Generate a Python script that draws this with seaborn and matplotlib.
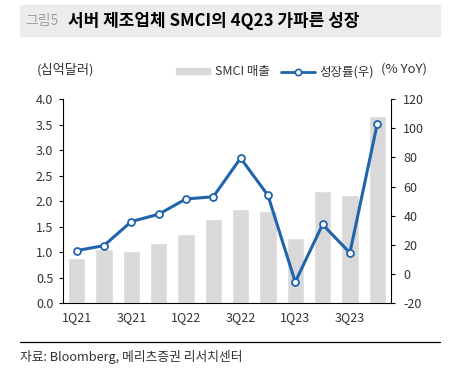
import numpy as np
import matplotlib
matplotlib.use('Agg')
import matplotlib.pyplot as plt
import seaborn as sns
import pandas as pd
from matplotlib.patches import Rectangle
from matplotlib.lines import Line2D

# ----------------------------------------------------------
# data
# ----------------------------------------------------------
quarters = ['1Q21', '2Q21', '3Q21', '4Q21', '1Q22', '2Q22', '3Q22', '4Q22',
            '1Q23', '2Q23', '3Q23', '4Q23']
revenue = [0.89, 1.07, 1.03, 1.18, 1.36, 1.64, 1.85, 1.80, 1.28, 2.19, 2.12, 3.66]  # 십억달러
growth = [16, 19.5, 36, 41, 51.5, 53, 79.5, 54, -5.5, 34, 14.5, 103]  # % YoY
tick_labels = ['1Q21', '3Q21', '1Q22', '3Q22', '1Q23', '3Q23']

bar_color = '#d9d9d9'
line_color = '#1f64ad'

# ----------------------------------------------------------
# style
# ----------------------------------------------------------
sns.set_style('white')
plt.rcParams['font.family'] = ['Noto Sans CJK KR', 'DejaVu Sans']
plt.rcParams['axes.unicode_minus'] = False

fig = plt.figure(figsize=(4.51, 3.77), dpi=100)
ax = fig.add_axes([0.1397, 0.196, 0.727, 0.541])

df = pd.DataFrame({'q': quarters, 'rev': revenue, 'x': np.arange(len(quarters))})
sns.barplot(data=df, x='q', y='rev', color=bar_color, saturation=1, width=0.63, ax=ax)
ax.set_xlim(-0.5, 11.5)
ax.set_ylim(0, 4.0)
ax.set_yticks(np.arange(0, 4.01, 0.5))
ax.set_yticklabels([f'{v:.1f}' for v in np.arange(0, 4.01, 0.5)])
ax.set_xlabel('')
ax.set_ylabel('')

# x ticks: marks at boundaries, labels at every other quarter
ax.set_xticks(np.arange(-0.5, 12, 2))
ax.set_xticklabels([])
ax.set_xticks(np.arange(0, 12, 2), minor=True)
ax.set_xticklabels(tick_labels, minor=True)
ax.tick_params(axis='x', which='major', direction='inout', length=6, width=0.8, color='black')
ax.tick_params(axis='x', which='minor', length=0, pad=6, labelsize=9, labelcolor='#333333')
ax.tick_params(axis='y', direction='out', length=3, width=0.8, color='black', pad=4,
               labelsize=9, labelcolor='#333333', left=True)

ax2 = ax.twinx()
sns.lineplot(data=df.assign(g=growth), x='x', y='g', ax=ax2, color=line_color, lw=2.2,
             marker='o', markersize=5, markerfacecolor='white', markeredgecolor=line_color,
             markeredgewidth=1.3)
ax2.set_ylim(-20, 120)
ax2.set_yticks(np.arange(-20, 121, 20))
ax2.set_xlim(-0.5, 11.5)
ax2.set_xlabel('')
ax2.set_ylabel('')
ax2.tick_params(axis='y', direction='out', length=3, width=0.8, color='black', pad=6,
                labelsize=9, labelcolor='#333333', right=True)

for a in (ax, ax2):
    a.spines['top'].set_visible(False)
    for s in ('left', 'right', 'bottom'):
        a.spines[s].set_color('black')
        a.spines[s].set_linewidth(0.8)
ax.spines['right'].set_visible(False)
ax2.spines['left'].set_visible(False)
ax2.spines['bottom'].set_visible(False)

# ----------------------------------------------------------
# title bar, units, legend, source
# ----------------------------------------------------------
fig.patches.append(Rectangle((20 / 451, 1 - 36 / 377), 420 / 451, 31 / 377,
                             transform=fig.transFigure, color='#ececec', zorder=0))
fig.text(25 / 451, 1 - 21 / 377, '그림5', fontsize=10, color='#a0a0a0', va='center')
fig.text(68 / 451, 1 - 21 / 377, '서버 제조업체 SMCI의 4Q23 가파른 성장', fontsize=12.2,
         fontweight='bold', color='black', va='center')

fig.text(37 / 451, 1 - 70 / 377, '(십억달러)', fontsize=9.5, color='#333333', va='center')
fig.text(427 / 451, 1 - 69 / 377, '(% YoY)', fontsize=9.5, color='#333333', va='center', ha='right')

handles = [Rectangle((0, 0), 1, 1, color=bar_color),
           Line2D([], [], color=line_color, lw=2, marker='o', markersize=4.5,
                  markerfacecolor='white', markeredgecolor=line_color, markeredgewidth=1.2)]
fig.legend(handles, ['SMCI 매출', '성장률(우)'], loc='center', ncol=2,
           bbox_to_anchor=(275 / 451, 1 - 72 / 377), frameon=False, fontsize=9,
           handlelength=2.7, handleheight=0.45, handletextpad=0.4, columnspacing=0.9,
           labelcolor='#333333')

fig.add_artist(Line2D([20 / 451, 440 / 451], [1 - 342 / 377, 1 - 342 / 377],
                      transform=fig.transFigure, color='black', lw=0.9))
fig.text(20 / 451, 1 - 357 / 377, '자료: Bloomberg, 메리츠증권 리서치센터', fontsize=9.2,
         color='#333333', va='center')

fig.savefig('out.png', dpi=100)
